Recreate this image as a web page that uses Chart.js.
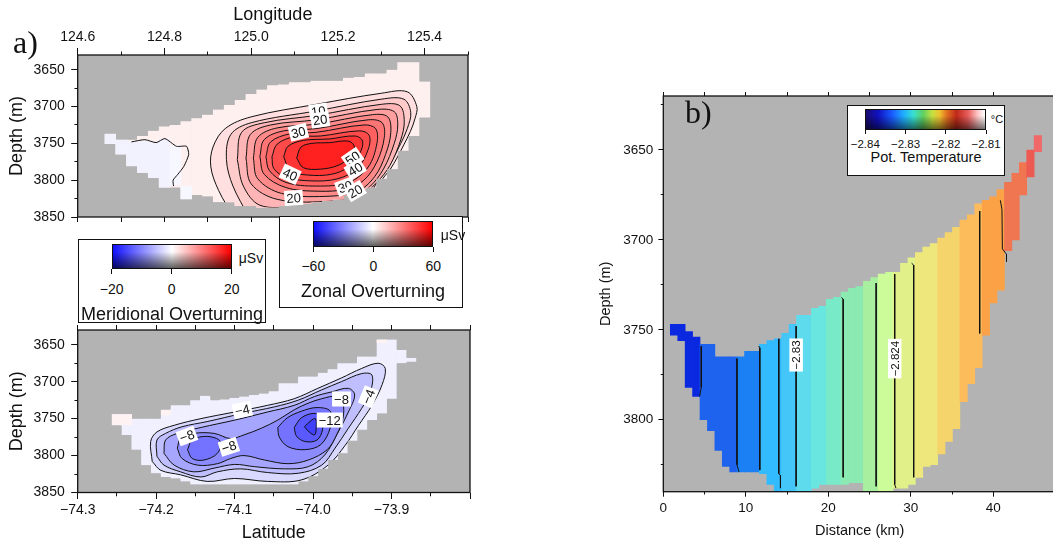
<!DOCTYPE html>
<html>
<head>
<meta charset="utf-8">
<script src="https://cdn.jsdelivr.net/npm/chart.js@4.4.0/dist/chart.umd.min.js"></script>
<style>
  html, body { margin: 0; padding: 0; background: #fff; overflow: hidden; }
  #fig { position: relative; width: 1053px; height: 547px; overflow: hidden;
         font-family: "Liberation Sans", Arial, Helvetica, sans-serif; color: #111; }
  canvas { position: absolute; }
  .t { position: absolute; white-space: nowrap; line-height: 1; transform: translate(-50%, -50%); }
  .box { position: absolute; background: #fff; border: 1.3px solid #111; box-sizing: border-box; }
  .cb { position: absolute; border: 1px solid #111; box-sizing: border-box; }
  .rb { background: linear-gradient(to bottom, rgba(0,0,0,0) 30%, rgba(0,0,0,0.62) 100%),
                    linear-gradient(to right, #1010ff, #ffffff 50%, #ff0000); }
  .tb { background: linear-gradient(to bottom, rgba(0,0,0,0) 30%, rgba(0,0,0,0.55) 100%),
                    linear-gradient(to right, #1a0c70 0%, #1010c0 10%, #1a5cff 22%, #20b0ff 32%, #38e0d0 40%,
                                    #60d060 48%, #c8e040 56%, #f0c030 62%, #e07020 68%, #c02818 76%,
                                    #e86060 86%, #ffc8c8 94%, #ffffff 100%); }
  .tk { position: absolute; width: 1px; height: 5px; background: #111; }
  .pl { position: absolute; font-family: "Liberation Serif", "DejaVu Serif", serif; font-size: 32px; line-height: 1; }
</style>
</head>
<body>
<div id="fig">
  <canvas id="zonal" width="470" height="224" style="left:0;top:0"></canvas>
  <canvas id="merid" width="472" height="225" style="left:0;top:322px"></canvas>
  <canvas id="temp" width="466" height="459" style="left:590px;top:88px"></canvas>

  <div class="pl" style="left:13px;top:26px">a)</div>
  <div class="pl" style="left:685px;top:96px">b)</div>

  <!-- meridional colour bar -->
  <div class="box" style="left:77.7px;top:239px;width:188.3px;height:84px"></div>
  <div class="cb rb" style="left:111.7px;top:244px;width:120px;height:25px"></div>
  <div class="tk" style="left:111.2px;top:269px"></div>
  <div class="tk" style="left:171.2px;top:269px"></div>
  <div class="tk" style="left:231.2px;top:269px"></div>
  <div class="t" style="left:111.7px;top:289px;font-size:14px">&minus;20</div>
  <div class="t" style="left:171.7px;top:289px;font-size:14px">0</div>
  <div class="t" style="left:231.7px;top:289px;font-size:14px">20</div>
  <div class="t" style="left:251px;top:258px;font-size:14px">μSv</div>
  <div class="t" style="left:172px;top:314px;font-size:18px">Meridional Overturning</div>

  <!-- zonal colour bar -->
  <div class="box" style="left:279.3px;top:215.5px;width:184px;height:92px"></div>
  <div class="cb rb" style="left:313.3px;top:221px;width:120px;height:26.3px"></div>
  <div class="tk" style="left:312.8px;top:247px"></div>
  <div class="tk" style="left:372.8px;top:247px"></div>
  <div class="tk" style="left:432.8px;top:247px"></div>
  <div class="t" style="left:313.3px;top:265.7px;font-size:14px">&minus;60</div>
  <div class="t" style="left:373.3px;top:265.7px;font-size:14px">0</div>
  <div class="t" style="left:433.3px;top:265.7px;font-size:14px">60</div>
  <div class="t" style="left:453px;top:235px;font-size:14px">μSv</div>
  <div class="t" style="left:373px;top:291px;font-size:18px">Zonal Overturning</div>

  <!-- potential temperature colour bar -->
  <div class="box" style="left:847.3px;top:105px;width:157.7px;height:71px"></div>
  <div class="cb tb" style="left:865.3px;top:109px;width:120.7px;height:21px"></div>
  <div class="tk" style="left:864.8px;top:130px;height:4px"></div>
  <div class="tk" style="left:905px;top:130px;height:4px"></div>
  <div class="tk" style="left:945.3px;top:130px;height:4px"></div>
  <div class="tk" style="left:985.5px;top:130px;height:4px"></div>
  <div class="t" style="left:865.3px;top:145px;font-size:11.5px">&minus;2.84</div>
  <div class="t" style="left:905.5px;top:145px;font-size:11.5px">&minus;2.83</div>
  <div class="t" style="left:945.8px;top:145px;font-size:11.5px">&minus;2.82</div>
  <div class="t" style="left:986px;top:145px;font-size:11.5px">&minus;2.81</div>
  <div class="t" style="left:997px;top:119px;font-size:11px">°C</div>
  <div class="t" style="left:926px;top:157.3px;font-size:14.5px">Pot. Temperature</div>
</div>

<script>
// a) 위: 동서 순환 (μSv) — 격자 열(경도 중심)마다 자료가 있는 깊이 구간
const zonalLon = [124.675, 124.7, 124.725, 124.75, 124.775, 124.8, 124.825, 124.85, 124.875, 124.9,
  124.925, 124.95, 124.975, 125.0, 125.025, 125.05, 125.075, 125.1, 125.125, 125.15,
  125.175, 125.2, 125.225, 125.25, 125.275, 125.3, 125.325, 125.35, 125.375, 125.4];
const zonalTop = [3737, 3745, 3745, 3740, 3733, 3727, 3725, 3720, 3716, 3711, 3704, 3698, 3691, 3683, 3677,
  3671, 3670, 3667, 3667, 3665, 3665, 3665, 3661, 3660, 3655, 3655, 3650, 3640, 3640, 3666];
const zonalBot = [3751, 3765, 3781, 3790, 3797, 3810, 3810, 3826, 3820, 3822, 3830, 3830, 3835, 3835, 3837,
  3837, 3835, 3833, 3832, 3830, 3828, 3826, 3821, 3817, 3810, 3798, 3785, 3760, 3740, 3715];
const zonalBg = 3.5;
// 서쪽의 약한 음(-) 값 칸
const zonalNegLon = [124.675, 124.7, 124.725, 124.75, 124.775, 124.8, 124.825, 124.85];
const zonalNegTop = [3737, 3745, 3748, 3747, 3749, 3745, 3753, 3808];
const zonalNegBot = [3751, 3765, 3781, 3790, 3797, 3810, 3806, 3826];
const zonalNegVal = [-3, -3, -3, -3, -3, -3, -2, -2];
// 등치선 (경도, 깊이)
const zonalLevels = [5, 10, 15, 20, 25, 30, 35, 40, 45, 50];
const zc5 = [[124.96,3850],[124.925,3814],[124.907,3782],[124.912,3755],[124.94,3730],[125.0,3714],[125.15,3697],
  [125.3,3682],[125.36,3680],[125.382,3700],[125.378,3716],[125.367,3734],[125.352,3752],[125.336,3770],
  [125.321,3785],[125.3,3802],[125.28,3850],[124.96,3850]];
const zc10 = [[124.995,3850],[124.958,3808],[124.943,3772],[124.953,3738],[125.0,3722],[125.15,3706],[125.3,3690],
  [125.352,3690],[125.368,3708],[125.36,3730],[125.345,3750],[125.325,3773],[125.305,3792],[125.285,3808],
  [125.26,3850],[124.995,3850]];
const zc15 = [[124.968,3772],[124.978,3735],[125.03,3722],[125.15,3712],[125.3,3697],[125.343,3699],[125.353,3720],
  [125.345,3745],[125.32,3780],[125.29,3803],[125.26,3818],[125.2,3834],[125.1,3836],[125.02,3834],[124.982,3808],
  [124.968,3772]];
const zc20 = [[124.988,3770],[124.998,3738],[125.045,3725],[125.15,3718],[125.29,3704],[125.33,3707],[125.338,3725],
  [125.33,3750],[125.305,3785],[125.275,3808],[125.24,3822],[125.17,3829],[125.06,3826],[125.0,3805],[124.988,3770]];
const zc25 = [[125.005,3770],[125.015,3742],[125.06,3729],[125.15,3724],[125.28,3711],[125.315,3714],[125.322,3735],
  [125.31,3765],[125.285,3795],[125.245,3815],[125.17,3822],[125.07,3818],[125.015,3798],[125.005,3770]];
const zc30 = [[125.02,3768],[125.03,3745],[125.075,3733],[125.15,3730],[125.27,3718],[125.302,3722],[125.307,3742],
  [125.29,3775],[125.26,3800],[125.22,3812],[125.155,3815],[125.08,3810],[125.03,3792],[125.02,3768]];
const zc35 = [[125.034,3768],[125.045,3748],[125.09,3737],[125.15,3735],[125.26,3725],[125.287,3730],[125.29,3750],
  [125.27,3782],[125.225,3803],[125.15,3808],[125.08,3803],[125.042,3787],[125.034,3768]];
const zc40 = [[125.048,3768],[125.06,3751],[125.1,3741],[125.16,3740],[125.25,3733],[125.272,3739],[125.27,3758],
  [125.245,3784],[125.2,3798],[125.14,3801],[125.08,3796],[125.052,3784],[125.048,3768]];
const zc45 = [[125.075,3768],[125.085,3754],[125.12,3746],[125.18,3744],[125.24,3740],[125.257,3747],[125.25,3764],
  [125.225,3782],[125.185,3792],[125.13,3793],[125.09,3787],[125.075,3768]];
const zc50 = [[125.105,3770],[125.115,3755],[125.14,3750],[125.18,3749],[125.225,3747],[125.238,3755],[125.225,3770],
  [125.2,3780],[125.16,3785],[125.12,3783],[125.105,3770]];
const zonalZero = [[124.724,3748],[124.755,3745],[124.781,3749],[124.801,3743.5],[124.828,3754],[124.851,3754],
  [124.856,3765],[124.845,3781],[124.831,3792],[124.82,3800],[124.821,3808]];
const zonalLabels = [[125.155,3706.5,'10',-8],[125.159,3718,'20',-8],[125.109,3735,'30',-14],[125.234,3770,'50',-35],
  [125.24,3785,'40',-32],[125.09,3792,'40',25],[125.217,3809,'30',-20],[125.24,3815,'20',-30],[125.098,3824,'20',-4]];

// a) 아래: 남북 순환 (μSv)
const meridLat = [-74.25, -74.2375, -74.225, -74.2125, -74.2, -74.1875, -74.175, -74.1625, -74.15, -74.1375,
  -74.125, -74.1125, -74.1, -74.0875, -74.075, -74.0625, -74.05, -74.0375, -74.025, -74.0125,
  -74.0, -73.9875, -73.975, -73.9625, -73.95, -73.9375, -73.925, -73.9125, -73.9, -73.8875, -73.875];
const meridTop = [3744, 3744, 3750, 3750, 3750, 3738, 3732, 3732, 3725, 3719, 3725, 3724, 3722, 3720, 3718, 3716,
  3713, 3702, 3702, 3693, 3693, 3688, 3683, 3675, 3675, 3666, 3666, 3643, 3643, 3657, 3668];
const meridBot = [3759, 3772, 3792, 3813, 3824, 3829, 3831, 3835, 3839, 3839, 3839, 3839, 3839, 3839, 3839, 3839,
  3839, 3839, 3839, 3835, 3828, 3818, 3806, 3797, 3780, 3765, 3752, 3743, 3723, 3675, 3673];
const meridBg = -1.2;
const meridPosLat = [-74.25, -74.2375, -74.1875, -73.9125];
const meridPosTop = [3744, 3744, 3738, 3643];
const meridPosBot = [3759, 3758, 3745, 3647];
const meridPosVal = [1, 1, 1, 1];
const meridLevels = [-2, -4, -6, -8, -10, -10, -12, -14];
const mc2 = [[-74.205,3808],[-74.207,3781],[-74.199,3768],[-74.177,3759],[-74.143,3750],[-74.100,3741],[-74.058,3732],
  [-74.024,3723],[-73.994,3709],[-73.964,3695],[-73.938,3682],[-73.917,3675],[-73.908,3682],[-73.912,3704],
  [-73.925,3732],[-73.942,3759],[-73.959,3786],[-73.981,3813],[-74.015,3833],[-74.058,3835],[-74.100,3831],
  [-74.135,3835],[-74.169,3826],[-74.194,3820],[-74.205,3808]];
const mc4 = [[-74.199,3801],[-74.199,3779],[-74.188,3770],[-74.167,3761],[-74.135,3754],[-74.090,3743],[-74.049,3734],
  [-74.019,3725],[-73.989,3711],[-73.964,3700],[-73.938,3689],[-73.925,3691],[-73.927,3714],[-73.938,3736],
  [-73.955,3763],[-73.972,3790],[-73.989,3813],[-74.019,3824],[-74.058,3823],[-74.092,3818],[-74.122,3822],
  [-74.143,3829],[-74.169,3822],[-74.190,3813],[-74.199,3801]];
const mc6 = [[-74.190,3797],[-74.188,3779],[-74.173,3770],[-74.143,3762],[-74.100,3752],[-74.058,3741],[-74.024,3732],
  [-73.998,3720],[-73.977,3714],[-73.955,3709],[-73.947,3718],[-73.955,3741],[-73.968,3768],[-73.985,3799],
  [-74.006,3815],[-74.036,3818],[-74.075,3815],[-74.100,3812],[-74.126,3817],[-74.152,3822],[-74.177,3813],
  [-74.190,3797]];
const mc8 = [[-74.173,3790],[-74.169,3777],[-74.152,3770],[-74.126,3770],[-74.105,3777],[-74.088,3772],[-74.066,3763],
  [-74.045,3752],[-74.024,3738],[-74.006,3729],[-73.989,3723],[-73.970,3720],[-73.962,3729],[-73.962,3750],
  [-73.970,3772],[-73.982,3792],[-74.006,3806],[-74.032,3811],[-74.062,3806],[-74.088,3800],[-74.105,3804],
  [-74.122,3811],[-74.147,3813],[-74.167,3804],[-74.173,3790]];
const mc10a = [[-74.160,3792],[-74.154,3779],[-74.135,3774],[-74.118,3781],[-74.122,3797],[-74.139,3806],
  [-74.154,3804],[-74.160,3792]];
const mc10b = [[-74.045,3762],[-74.033,3749],[-74.015,3740],[-73.995,3735],[-73.978,3740],[-73.978,3762],
  [-73.990,3785],[-74.010,3792],[-74.032,3788],[-74.043,3775],[-74.045,3762]];
const mc12 = [[-74.024,3762],[-74.015,3749],[-74.000,3743],[-73.989,3747],[-73.988,3765],[-73.995,3779],
  [-74.010,3781],[-74.021,3774],[-74.024,3762]];
const mc14 = [[-74.011,3761],[-74.003,3753],[-73.997,3750],[-73.996,3762],[-73.998,3772],[-74.005,3768],[-74.011,3761]];
const meridLabels = [[-74.0902,3738.3,'−4',-12],[-74.1607,3773.5,'−8',-20],[-74.1073,3788,'−8',-18],
  [-73.9638,3723.4,'−8',0],[-73.9787,3751.9,'−12',0],[-73.9296,3720.3,'−4',-68]];

// b) 잠재수온 (°C) — 거리(km) 열마다 깊이 구간과 값
const distKm = [1.3, 2.2, 3.1, 4.0, 4.9, 5.8, 6.7, 7.6, 8.5, 9.4, 10.3, 11.2, 12.1, 13.0, 13.9, 14.8, 15.7,
  16.6, 17.5, 18.4, 19.3, 20.2, 21.1, 22.0, 22.9, 23.8, 24.7, 25.6, 26.5, 27.4, 28.3, 29.2, 30.1, 31.0, 31.9,
  32.8, 33.7, 34.6, 35.5, 36.4, 37.3, 38.2, 39.1, 40.0, 40.9, 41.8, 42.7, 43.6, 44.5, 45.4];
const colTop = [3747, 3747, 3751, 3754, 3758, 3758, 3765, 3765, 3765, 3765, 3762, 3762, 3758, 3756, 3755, 3752,
  3747, 3742, 3742, 3738, 3737, 3733, 3732, 3729, 3727, 3726, 3723, 3721, 3719, 3718, 3718, 3713, 3710, 3707,
  3704, 3702, 3699, 3696, 3693, 3689, 3686, 3680, 3678, 3676, 3672, 3668, 3663, 3657, 3650, 3642];
const colBot = [3753, 3756, 3782, 3787, 3800, 3806, 3817, 3826, 3829, 3829, 3829, 3829, 3830, 3836, 3840, 3840,
  3840, 3840, 3840, 3838, 3836, 3836, 3836, 3836, 3835, 3835, 3840, 3840, 3840, 3840, 3838, 3838, 3836, 3832,
  3826, 3825, 3819, 3812, 3805, 3790, 3780, 3771, 3753, 3735, 3728, 3706, 3700, 3675, 3665, 3651];
const colTemp = [-2.8392, -2.8392, -2.8392, -2.8392, -2.8377, -2.8377, -2.8377, -2.8377, -2.8377, -2.8362,
  -2.8362, -2.8362, -2.8347, -2.8347, -2.8347, -2.8332, -2.8332, -2.8317, -2.8317, -2.8302, -2.8302, -2.8287,
  -2.8287, -2.8272, -2.8272, -2.8272, -2.8257, -2.8257, -2.8242, -2.8242, -2.8227, -2.8227, -2.8227, -2.8212,
  -2.8212, -2.8212, -2.8197, -2.8197, -2.8197, -2.8182, -2.8182, -2.8182, -2.8167, -2.8167, -2.8167, -2.8152,
  -2.8152, -2.8152, -2.8137, -2.8122];
const tc1 = [[4.6,3759],[4.6,3782],[4.4,3787]];
const tc2 = [[8.93,3766],[8.93,3825],[9.17,3829]];
const tc3 = [[11.55,3759],[11.7,3760],[11.7,3828]];
const tc4 = [[14.0,3755],[14.0,3830],[14.2,3831],[14.2,3838]];
const tc5 = [[16.1,3748],[16.1,3837]];
const tc6 = [[21.6,3732],[21.8,3733],[21.8,3832]];
const tc7 = [[25.8,3724],[25.8,3837]];
const tc8 = [[28.05,3719],[28.05,3836],[28.2,3838]];
const tc9 = [[30.1,3713],[30.35,3714],[30.35,3832]];
const tc10 = [[38.35,3684],[38.35,3752]];
const tc11 = [[40.85,3678],[41.05,3683],[41.1,3705],[41.6,3708],[41.6,3712]];
const tempLabels = [[16.1,3764,'−2.83',-90],[28.05,3766,'−2.824',-90]];

// ---- 스타일 ----
const FONT = '"Liberation Sans", Arial, Helvetica, sans-serif';
const INK = '#111';
const GRAY = '#b3b3b3';
const T_MIN = -2.84, T_STEP = 0.0015;
const TEMP_PALETTE = ['#0a28e0', '#1e63ee', '#1a80f4', '#33bbff', '#44c6f8', '#5edcee', '#6ae6e0', '#78eac8',
  '#8aeab2', '#a8f0a0', '#ccfc9a', '#e2f08a', '#eee87c', '#f5d46c', '#fcbc5c', '#fca246', '#f07652', '#ec5a52', '#f06868'];

function divColor(v, lim) {
  const f = Math.max(-1, Math.min(1, v / lim));
  const c = Math.round(255 * (1 - Math.abs(f)));
  return f >= 0 ? `rgb(255,${c},${c})` : `rgb(${c},${c},255)`;
}
function tempColor(t) {
  const i = Math.floor((t - T_MIN) / T_STEP);
  return TEMP_PALETTE[Math.max(0, Math.min(TEMP_PALETTE.length - 1, i))];
}

// 패널별 부가 정보 (마스크 / 등치선 라벨)
const extras = {
  zonal: { mask: { pos: zonalLon, top: zonalTop, bot: zonalBot, half: 0.0125 }, labels: zonalLabels, size: 13 },
  merid: { mask: { pos: meridLat, top: meridTop, bot: meridBot, half: 0.00625 }, labels: meridLabels, size: 13 },
  temp: { mask: null, labels: tempLabels, size: 11.5 },
};

const panelPlugin = {
  id: 'panel',
  beforeDraw(chart) {
    const a = chart.chartArea, ctx = chart.ctx;
    ctx.save();
    ctx.fillStyle = GRAY;
    ctx.fillRect(a.left, a.top, a.right - a.left, a.bottom - a.top);
    ctx.restore();
  },
  beforeDatasetsDraw(chart) {
    const ex = extras[chart.canvas.id];
    if (!ex || !ex.mask) return;
    const m = ex.mask, xs = chart.scales.x, ys = chart.scales.y, ctx = chart.ctx;
    ctx.save();
    ctx.beginPath();
    m.pos.forEach((p, i) => {
      const x0 = xs.getPixelForValue(p - m.half), x1 = xs.getPixelForValue(p + m.half);
      const y0 = ys.getPixelForValue(m.top[i]), y1 = ys.getPixelForValue(m.bot[i]);
      ctx.rect(x0 - 0.4, y0, x1 - x0 + 0.8, y1 - y0);
    });
    ctx.clip();
  },
  beforeDatasetDraw(chart, args) {
    const ds = chart.data.datasets[args.index];
    if (!ds.bandColor) return;
    const meta = args.meta, pts = meta.data, ctx = chart.ctx;
    if (!pts.length) return;
    meta.dataset.updateControlPoints(chart.chartArea, 'x');
    ctx.save();
    ctx.beginPath();
    ctx.moveTo(pts[0].x, pts[0].y);
    for (let i = 1; i < pts.length; i++) {
      const p = pts[i - 1], q = pts[i];
      if (p.cp2x === undefined || q.cp1x === undefined) ctx.lineTo(q.x, q.y);
      else ctx.bezierCurveTo(p.cp2x, p.cp2y, q.cp1x, q.cp1y, q.x, q.y);
    }
    ctx.closePath();
    ctx.fillStyle = ds.bandColor;
    ctx.fill();
    ctx.restore();
  },
  afterDatasetsDraw(chart) {
    const ex = extras[chart.canvas.id];
    if (!ex) return;
    const ctx = chart.ctx;
    if (ex.mask) ctx.restore();
    const xs = chart.scales.x, ys = chart.scales.y;
    ctx.save();
    ctx.font = `${ex.size}px ${FONT}`;
    ctx.textAlign = 'center';
    ctx.textBaseline = 'middle';
    ex.labels.forEach(([lx, ly, txt, rot]) => {
      const px = xs.getPixelForValue(lx), py = ys.getPixelForValue(ly);
      const w = ctx.measureText(txt).width + 4, h = ex.size + 2;
      ctx.save();
      ctx.translate(px, py);
      ctx.rotate(rot * Math.PI / 180);
      ctx.fillStyle = '#fff';
      ctx.fillRect(-w / 2, -h / 2, w, h);
      ctx.fillStyle = INK;
      ctx.fillText(txt, 0, 1);
      ctx.restore();
    });
    ctx.restore();
  },
  afterDraw(chart) {
    const a = chart.chartArea, ctx = chart.ctx;
    ctx.save();
    ctx.strokeStyle = INK;
    ctx.lineWidth = 1.3;
    ctx.strokeRect(a.left, a.top, a.right - a.left, a.bottom - a.top);
    ctx.restore();
  },
};
Chart.register(panelPlugin);

const barStyle = { type: 'bar', grouped: false, barPercentage: 1, categoryPercentage: 1, borderWidth: 0 };

function contour(pts, fillColor, order, tension) {
  return {
    type: 'line', data: pts.map((p) => ({ x: p[0], y: p[1] })), order,
    borderColor: INK, borderWidth: 1, pointRadius: 0, tension, fill: false,
    bandColor: fillColor,
  };
}

// 눈금: 주 눈금은 길게, 보조 눈금은 짧게 (점선 패턴으로 잘라냄)
function tickDash(isMajor, len, minor, outwardFirst) {
  return (c) => (!c.tick || isMajor(c.tick.value) ? [] : outwardFirst ? [0, len - minor, minor, 100] : [minor, 100]);
}

function hAxis(o) {
  const len = o.tick || 5, minor = o.minor || len;
  const isMajor = o.isMajor || (() => true);
  return {
    type: 'linear', position: o.position, min: o.min, max: o.max, offset: false,
    afterFit: (s) => { s.height = o.height; s.paddingLeft = 0; s.paddingRight = 0; },
    ticks: {
      stepSize: o.step, autoSkip: false, maxTicksLimit: 100, maxRotation: 0, minRotation: 0,
      padding: o.pad || 4, color: INK, font: { family: FONT, size: o.size || 14 },
      callback: o.label || (() => ''),
    },
    grid: { drawOnChartArea: false, offset: false, tickLength: len, tickColor: INK, tickWidth: 1,
            tickBorderDash: tickDash(isMajor, len, minor, o.position === 'top') },
    border: { display: false },
    title: o.title
      ? { display: true, text: o.title, color: INK, font: { family: FONT, size: o.titleSize || 18 },
          padding: { top: o.titlePad, bottom: o.titlePad } }
      : { display: false },
  };
}

function depthAxis(o) {
  const isMajor = (v) => Math.round(v) % 50 === 0;
  return {
    type: 'linear', position: 'left', reverse: true, min: o.min, max: o.max, beginAtZero: false,
    afterFit: (s) => { s.width = o.width; s.paddingTop = 0; s.paddingBottom = 0; },
    ticks: {
      stepSize: 25, includeBounds: false, autoSkip: false, maxTicksLimit: 100, padding: o.pad,
      color: INK, font: { family: FONT, size: o.size },
      callback: (v) => (isMajor(v) ? String(Math.round(v)) : ''),
    },
    grid: { drawOnChartArea: false, tickLength: o.tick, tickColor: INK, tickWidth: 1,
            tickBorderDash: tickDash(isMajor, o.tick, o.tick / 2, true) },
    border: { display: false },
    title: { display: true, text: 'Depth (m)', color: INK, font: { family: FONT, size: o.titleSize },
             padding: { top: o.titlePad, bottom: 0 } },
  };
}

const baseOpts = {
  responsive: false, maintainAspectRatio: false, animation: false, devicePixelRatio: 1, events: [],
  plugins: { legend: { display: false }, tooltip: { enabled: false } },
};
const minus = (s) => s.replace('-', '\u2212');

// ---- a) 위: 동서 순환 ----
const zonalRings = [zc5, zc10, zc15, zc20, zc25, zc30, zc35, zc40, zc45, zc50];
const lonMajor = (v) => Math.abs(Math.round(v * 10)) % 2 === 0;
new Chart(document.getElementById('zonal'), {
  type: 'bar',
  data: {
    datasets: [
      { ...barStyle, order: 100, backgroundColor: divColor(zonalBg, 60),
        data: zonalLon.map((x, i) => ({ x, y: [zonalTop[i], zonalBot[i]] })) },
      { ...barStyle, order: 90, backgroundColor: zonalNegVal.map((v) => divColor(v, 60)),
        data: zonalNegLon.map((x, i) => ({ x, y: [zonalNegTop[i], zonalNegBot[i]] })) },
      contour(zonalZero, null, 80, 0.2),
      ...zonalRings.map((r, k) => contour(r, divColor(zonalLevels[k] + 2.5, 60), 70 - k, 0.35)),
    ],
  },
  options: {
    ...baseOpts,
    layout: { padding: { left: 0, right: 2, top: 0, bottom: 0 } },
    scales: {
      x: hAxis({ position: 'top', min: 124.6, max: 125.5, step: 0.1, height: 55, pad: 2, tick: 7, minor: 3.5,
        isMajor: lonMajor, title: 'Longitude', titlePad: 4,
        label: (v) => (lonMajor(v) ? v.toFixed(1) : '') }),
      x2: hAxis({ position: 'bottom', min: 124.6, max: 125.5, step: 0.1, height: 7, tick: 5 }),
      y: depthAxis({ min: 3630, max: 3850, width: 77.7, size: 14, pad: 6.5, tick: 6.5, titleSize: 18, titlePad: 6.5 }),
    },
  },
});

// ---- a) 아래: 남북 순환 ----
const meridRings = [mc2, mc4, mc6, mc8, mc10a, mc10b, mc12, mc14];
const latMajor = (v) => Math.abs(Math.round(v * 20)) % 2 === 0;
new Chart(document.getElementById('merid'), {
  type: 'bar',
  data: {
    datasets: [
      { ...barStyle, order: 100, backgroundColor: divColor(meridBg, 20),
        data: meridLat.map((x, i) => ({ x, y: [meridTop[i], meridBot[i]] })) },
      { ...barStyle, order: 90, backgroundColor: meridPosVal.map((v) => divColor(v, 20)),
        data: meridPosLat.map((x, i) => ({ x, y: [meridPosTop[i], meridPosBot[i]] })) },
      ...meridRings.map((r, k) => contour(r, divColor(meridLevels[k] - 1, 20), 70 - k, 0.35)),
    ],
  },
  options: {
    ...baseOpts,
    layout: { padding: { left: 0, right: 2, top: 0, bottom: 0 } },
    scales: {
      x: hAxis({ position: 'bottom', min: -74.3, max: -73.8, step: 0.05, height: 54.5, pad: 2.5, tick: 6.5, minor: 3.3,
        isMajor: latMajor, title: 'Latitude', titlePad: 3,
        label: (v) => (latMajor(v) && v < -73.85 ? minus(v.toFixed(1)) : '') }),
      x2: hAxis({ position: 'top', min: -74.3, max: -73.8, step: 0.05, height: 8, tick: 5 }),
      y: depthAxis({ min: 3630, max: 3850, width: 77.7, size: 14, pad: 6.5, tick: 6.5, titleSize: 18, titlePad: 6.5 }),
    },
  },
});

// ---- b) 잠재수온 단면 ----
const tempLines = [tc1, tc2, tc3, tc4, tc5, tc6, tc7, tc8, tc9, tc10, tc11];
const kmMajor = (v) => Math.round(v) % 10 === 0;
new Chart(document.getElementById('temp'), {
  type: 'bar',
  data: {
    datasets: [
      { ...barStyle, order: 100, backgroundColor: colTemp.map(tempColor),
        data: distKm.map((x, i) => ({ x, y: [colTop[i], colBot[i]] })) },
      ...tempLines.map((l, k) => contour(l, null, 50 - k, 0)),
    ],
  },
  options: {
    ...baseOpts,
    layout: { padding: { left: 0, right: 0, top: 0, bottom: 0 } },
    scales: {
      x: hAxis({ position: 'bottom', min: 0, max: 47.6, step: 5, height: 55.3, pad: 3.5, size: 13.5, tick: 5, minor: 2.5,
        isMajor: kmMajor, title: 'Distance (km)', titleSize: 14.5, titlePad: 7.6,
        label: (v) => (kmMajor(v) ? String(Math.round(v)) : '') }),
      x2: hAxis({ position: 'top', min: 0, max: 47.6, step: 5, height: 8, tick: 4 }),
      y: depthAxis({ min: 3620, max: 3840, width: 73.3, size: 13.5, pad: 5, tick: 5, titleSize: 14.5, titlePad: 7.3 }),
    },
  },
});
</script>
</body>
</html>
